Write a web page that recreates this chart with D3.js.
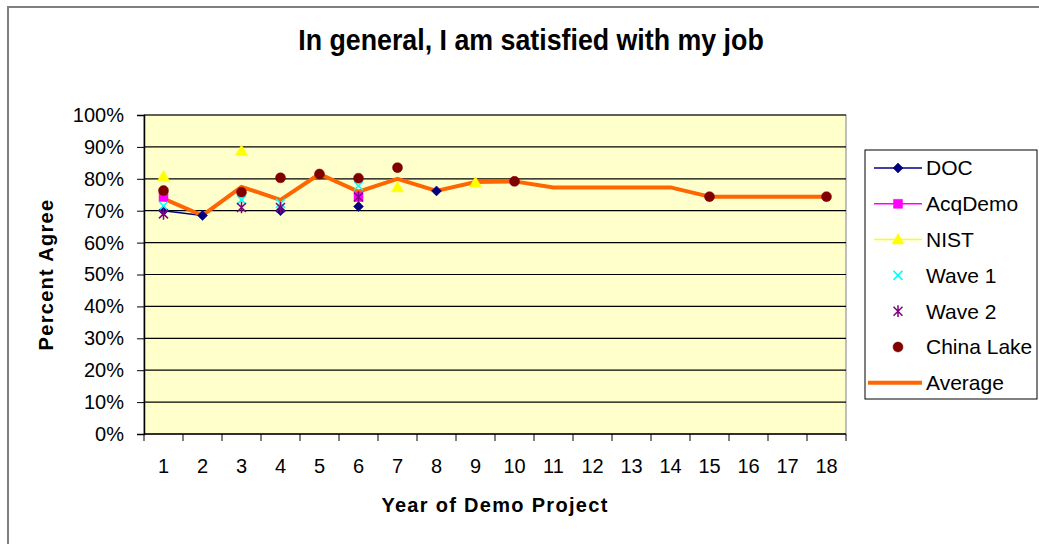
<!DOCTYPE html>
<html>
<head>
<meta charset="utf-8">
<script src="https://cdn.jsdelivr.net/npm/d3@7"></script>
<style>
  body { margin: 0; background: #fff; }
  text { font-family: "Liberation Sans", Arial, sans-serif; fill: #000; }
</style>
</head>
<body>
<div id="chart"></div>
<script>
// years of demo project
const years = d3.range(1, 19).map(String);

// percent agree per series (null = no survey that year)
const doc       = [70, 68.5, null, 70, null, 71.3, null, 76.2, null, null, null, null, null, null, null, null, null, null];
const acqDemo   = [74.3, null, null, null, null, 74.3, null, null, null, null, null, null, null, null, null, null, null, null];
const nist      = [80.8, null, 88.8, null, null, null, 77.3, null, 78.8, null, null, null, null, null, null, null, null, null];
const wave1     = [71.5, null, 73.4, 72.3, null, 77.8, null, null, null, null, null, null, null, null, null, null, null, null];
const wave2     = [69, null, 71, 71, null, 74.3, null, null, null, null, null, null, null, null, null, null, null, null];
const chinaLake = [76.3, null, 75.8, 80.3, 81.5, 80.2, 83.5, null, null, 79.2, null, null, null, null, 74.4, null, null, 74.4];
const average   = [73.8, 68.5, 77.5, 73.4, 81.5, 76, 80, 76.2, 79, 79.2, 77.3, 77.3, 77.3, 77.3, 74.4, 74.4, 74.4, 74.4];

const yTicks = d3.range(0, 1.01, 0.1);

const width = 1039, height = 544;
const plot = { left: 144, right: 846, top: 115, bottom: 434 };

// marker shapes, centred on 0,0
const shapes = {
    diamond: s => `M0,${-s}L${s},0L0,${s}L${-s},0Z`,
    square: s => `M${-s},${-s}H${s}V${s}H${-s}Z`,
    triangle: s => `M0,${-s * 1.1}L${s * 1.1},${s * 0.8}L${-s * 1.1},${s * 0.8}Z`,
    cross: s => `M${-s},${-s}L${s},${s}M${s},${-s}L${-s},${s}`,
    asterisk: s => `M${-s},${-s}L${s},${s}M${s},${-s}L${-s},${s}M0,${-s * 1.3}V${s * 1.3}`,
    circle: s => d3.arc()({ innerRadius: 0, outerRadius: s, startAngle: 0, endAngle: 2 * Math.PI })
};

const series = [
    { name: "DOC", values: doc, color: "#000080", line: true, shape: "diamond", size: 5, fill: true },
    { name: "AcqDemo", values: acqDemo, color: "#FF00FF", line: true, shape: "square", size: 4.5, fill: true },
    { name: "NIST", values: nist, color: "#FFFF00", line: true, shape: "triangle", size: 5.5, fill: true },
    { name: "Wave 1", values: wave1, color: "#00FFFF", line: false, shape: "cross", size: 4.5, fill: false },
    { name: "Wave 2", values: wave2, color: "#800080", line: false, shape: "asterisk", size: 4.5, fill: false },
    { name: "China Lake", values: chinaLake, color: "#800000", line: false, shape: "circle", size: 5, fill: true },
    { name: "Average", values: average, color: "#FF6600", line: true, shape: null, width: 4 }
];

const x = d3.scaleBand().domain(years).range([plot.left, plot.right]);
const y = d3.scaleLinear().domain([0, 1]).range([plot.bottom, plot.top]);

const svg = d3.select("#chart").append("svg").attr("width", width).attr("height", height);

// outer chart frame
svg.append("path")
    .attr("d", `M8,${height + 5}V7H${width + 5}`)
    .attr("fill", "none")
    .attr("stroke", "#7f7f7f")
    .attr("stroke-width", 2);

svg.append("text")
    .attr("transform", "translate(531,50) scale(1.03,1.1)")
    .attr("text-anchor", "middle")
    .style("font-size", "26px").style("font-weight", "bold")
    .text("In general, I am satisfied with my job");

// plot background
svg.append("rect")
    .attr("x", plot.left).attr("y", plot.top)
    .attr("width", plot.right - plot.left).attr("height", plot.bottom - plot.top)
    .attr("fill", "#FFFFCC")
    .attr("stroke", "#808080");

// gridlines
svg.append("g").selectAll("line")
    .data(yTicks.slice(1))
    .join("line")
    .attr("x1", plot.left).attr("x2", plot.right)
    .attr("y1", d => y(d)).attr("y2", d => y(d))
    .attr("stroke", "#000").attr("stroke-width", 1.2);

// y axis
const yAxis = svg.append("g")
    .attr("transform", `translate(${plot.left},0)`)
    .call(d3.axisLeft(y).tickValues(yTicks).tickFormat(d3.format(".0%")).tickSize(7).tickPadding(13));
yAxis.selectAll("text").style("font-size", "20px").attr("font-family", null);
yAxis.select(".domain").attr("stroke-width", 1.5);

// x axis: ticks sit between categories
const xAxis = svg.append("g").attr("transform", `translate(0,${plot.bottom})`);
xAxis.append("line")
    .attr("x1", plot.left).attr("x2", plot.right)
    .attr("stroke", "#000").attr("stroke-width", 1.5);
xAxis.selectAll("line.tick")
    .data(years.concat("end"))
    .join("line")
    .attr("class", "tick")
    .attr("x1", (d, i) => plot.left + i * x.bandwidth())
    .attr("x2", (d, i) => plot.left + i * x.bandwidth())
    .attr("y1", 0).attr("y2", 7)
    .attr("stroke", "#000");
xAxis.selectAll("text")
    .data(years)
    .join("text")
    .attr("x", d => x(d) + x.bandwidth() / 2)
    .attr("y", 39)
    .attr("text-anchor", "middle")
    .style("font-size", "20px")
    .text(d => d);

svg.append("text")
    .attr("x", (plot.left + plot.right) / 2).attr("y", 512)
    .attr("text-anchor", "middle")
    .style("font-size", "20px").style("font-weight", "bold").style("letter-spacing", "1.3px")
    .text("Year of Demo Project");

svg.append("text")
    .attr("transform", `translate(53,${(plot.top + plot.bottom) / 2}) rotate(-90)`)
    .attr("text-anchor", "middle")
    .style("font-size", "20px").style("font-weight", "bold").style("letter-spacing", "1.3px")
    .text("Percent Agree");

const cx = (d, i) => x(years[i]) + x.bandwidth() / 2;

// lines (break at missing years)
const line = d3.line()
    .defined(d => d != null)
    .x(cx)
    .y(d => y(d / 100));

series.filter(s => s.line).forEach(s => {
    svg.append("path")
        .datum(s.values)
        .attr("fill", "none")
        .attr("stroke", s.color)
        .attr("stroke-width", s.width || 1.5)
        .attr("stroke-linejoin", "round")
        .attr("d", line);
});

// markers
series.filter(s => s.shape).forEach(s => {
    svg.append("g").selectAll("path")
        .data(s.values.map((v, i) => ({ v, i })).filter(d => d.v != null))
        .join("path")
        .attr("transform", d => `translate(${cx(null, d.i)},${y(d.v / 100)})`)
        .attr("d", shapes[s.shape](s.size))
        .attr("fill", s.fill ? s.color : "none")
        .attr("stroke", s.color)
        .attr("stroke-width", s.fill ? 0.5 : 1.5);
});

// legend
const legend = svg.append("g").attr("transform", "translate(865,150)");
legend.append("rect")
    .attr("width", 172).attr("height", 249)
    .attr("fill", "#fff").attr("stroke", "#000");

const item = legend.selectAll("g")
    .data(series)
    .join("g")
    .attr("transform", (d, i) => `translate(0,${18 + i * 35.8})`);

item.filter(d => d.line).append("line")
    .attr("x1", d => d.shape ? 9 : 3).attr("x2", 57)
    .attr("stroke", d => d.color)
    .attr("stroke-width", d => d.width || 1.5);

item.filter(d => d.shape).append("path")
    .attr("transform", "translate(33,0)")
    .attr("d", d => shapes[d.shape](d.size))
    .attr("fill", d => d.fill ? d.color : "none")
    .attr("stroke", d => d.color)
    .attr("stroke-width", d => d.fill ? 0.5 : 1.5);

item.append("text")
    .attr("x", 61).attr("dy", "0.35em")
    .style("font-size", "21px")
    .text(d => d.name);
</script>
</body>
</html>
